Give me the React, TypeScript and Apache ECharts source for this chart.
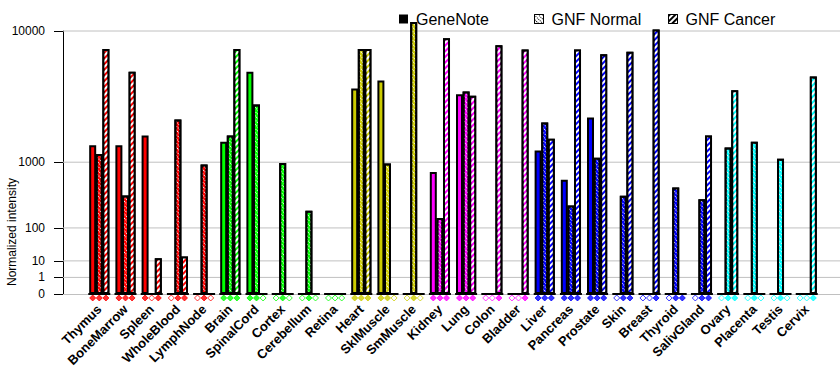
import React, { useEffect, useRef } from 'react';
import * as echarts from 'echarts';

const categories = [
  'Thymus', 'BoneMarrow', 'Spleen', 'WholeBlood', 'LymphNode',
  'Brain', 'SpinalCord', 'Cortex', 'Cerebellum', 'Retina',
  'Heart', 'SklMuscle', 'SmMuscle',
  'Kidney', 'Lung', 'Colon', 'Bladder',
  'Liver', 'Pancreas', 'Prostate', 'Skin', 'Breast', 'Thyroid', 'SalivGland',
  'Ovary', 'Placenta', 'Testis', 'Cervix',
];

const tissueColors = [
  '#ff0000', '#ff0000', '#ff0000', '#ff0000', '#ff0000',
  '#00ff00', '#00ff00', '#00ff00', '#00ff00', '#00ff00',
  '#cccc00', '#cccc00', '#cccc00',
  '#ff00ff', '#ff00ff', '#ff00ff', '#ff00ff',
  '#0000ff', '#0000ff', '#0000ff', '#0000ff', '#0000ff', '#0000ff', '#0000ff',
  '#00ffff', '#00ffff', '#00ffff', '#00ffff',
];

const geneNote: (number | null)[] = [
  1500, 1500, 1850, null, null,
  1620, 5700, null, null, null,
  4400, 5000, null,
  775, 4000, null, null,
  1330, 620, 2650, null, null, null, null,
  null, null, null, null,
];

const gnfNormal: (number | null)[] = [
  1220, 380, null, 2550, 940,
  1850, 3350, 980, 217, null,
  7900, 965, 11200,
  160, 4180, null, null,
  2400, 264, 1120, 377, null, 490, 333,
  1420, 1620, 1090, null,
];

const gnfCancer: (number | null)[] = [
  7900, 5700, 13, 15, null,
  7900, null, null, null, null,
  7900, null, null,
  9100, 3900, 8300, 7850,
  1730, 7850, 7350, 7600, 10200, 0, 1850,
  4270, null, null, 5300,
];

const seriesNames = ['GeneNote', 'GNF Normal', 'GNF Cancer'];
const yTickValues = [0, 1, 10, 100, 1000, 10000];
const gridValues = [1, 10, 100, 1000, 10000];

const P = 0.3;
const tr = (v: number) => Math.pow(v, P);
const FONT = "'Liberation Sans', Arial, sans-serif";
const OFF = 0.252;
const X_MIN = -1.385;
const X_MAX = 28.27;
const DIAMOND_Y = -0.24;
const LABEL_MARGIN = 13;

const normalDecal = {
  symbol: 'rect',
  symbolSize: 1,
  color: '#ffffff',
  backgroundColor: null,
  dashArrayX: [1, 1],
  dashArrayY: [1, 2],
  rotation: Math.PI / 4,
};
const cancerDecal = {
  symbol: 'rect',
  symbolSize: 1,
  color: '#ffffff',
  backgroundColor: null,
  dashArrayX: [1, 0],
  dashArrayY: [2, 2],
  rotation: -Math.PI / 4,
};

export default function App() {
  const ref = useRef<HTMLDivElement>(null);
  useEffect(() => {
    const chart = echarts.init(ref.current!, null, { renderer: 'svg' });
    const all = [geneNote, gnfNormal, gnfCancer];
    const decals: any[] = ['none', normalDecal, cancerDecal];

    const barSeries = all.map((arr, s) => ({
      type: 'bar',
      name: seriesNames[s],
      barWidth: 7,
      barGap: '-100%',
      clip: false,
      z: 3,
      itemStyle: { color: '#000', borderColor: '#000', borderWidth: 2, decal: decals[s] },
      data: arr
        .map((v, i) =>
          v === null
            ? null
            : { value: [i + (s - 1) * OFF, tr(v)], itemStyle: { color: tissueColors[i] } },
        )
        .filter((d) => d !== null),
    }));

    const diamonds: any[] = [];
    all.forEach((arr, s) => {
      arr.forEach((v, i) => {
        const c = tissueColors[i];
        diamonds.push({
          value: [i + (s - 1) * OFF, DIAMOND_Y],
          itemStyle: { color: v === null ? '#ffffff' : c, borderColor: c, borderWidth: 1 },
        });
      });
    });

    const legendStyle = (name: string, left: number, itemStyle: any) => ({
      data: [{ name, icon: 'rect', itemStyle }],
      left,
      top: 11,
      padding: 0,
      itemWidth: 9,
      itemHeight: 9,
      selectedMode: false,
      textStyle: { fontSize: 16, fontFamily: FONT, color: '#000', padding: [0, 0, 0, 3] },
    });

    chart.setOption({
      animation: false,
      backgroundColor: '#ffffff',
      grid: { left: 63, right: 0, top: 31, bottom: 91, containLabel: false },
      legend: [
        legendStyle('GeneNote', 399, { color: '#000', borderColor: '#000', borderWidth: 0 }),
        legendStyle('GNF Normal', 534, {
          color: '#ffffff', borderColor: '#000', borderWidth: 1,
          decal: { ...normalDecal, color: '#000' },
        }),
        legendStyle('GNF Cancer', 668, {
          color: '#ffffff', borderColor: '#000', borderWidth: 1,
          decal: { ...cancerDecal, color: '#000' },
        }),
      ],
      xAxis: {
        type: 'value',
        min: X_MIN,
        max: X_MAX,
        axisLine: { show: true, onZero: false, lineStyle: { color: '#c0c0c0', width: 1 } },
        axisTick: { show: false },
        splitLine: { show: false },
        axisLabel: { show: false },
      },
      yAxis: {
        type: 'value',
        min: 0,
        max: tr(10000),
        axisLine: { show: true, onZero: false, lineStyle: { color: '#000', width: 1 } },
        axisTick: {
          show: true,
          length: 9,
          customValues: yTickValues.map(tr),
          lineStyle: { color: '#000' },
        },
        axisLabel: {
          customValues: yTickValues.map(tr),
          formatter: (v: number) => String(Math.round(Math.pow(v, 1 / P))),
          fontSize: 12,
          color: '#000',
          margin: 18,
          fontFamily: FONT,
        },
        splitLine: { show: false },
      },
      graphic: [
        {
          type: 'text',
          x: 12,
          y: 232,
          rotation: Math.PI / 2,
          style: {
            text: 'Normalized intensity',
            fontSize: 12,
            fontFamily: FONT,
            fill: '#000',
            align: 'center',
            verticalAlign: 'middle',
          },
        },
      ],
      series: [
        {
          type: 'custom',
          name: 'grid',
          silent: true,
          z: 1,
          clip: false,
          data: gridValues.map((v) => [0, tr(v)]),
          encode: { x: 0, y: 1 },
          renderItem: (params: any, api: any) => {
            const y = api.coord([0, api.value(1)])[1];
            const cs = params.coordSys;
            return {
              type: 'line',
              shape: { x1: cs.x, y1: y, x2: cs.x + cs.width, y2: y },
              style: { stroke: '#c0c0c0', lineWidth: 1 },
            };
          },
        },
        ...barSeries,
        {
          type: 'custom',
          name: 'base',
          silent: true,
          z: 5,
          clip: false,
          data: categories.map((_, i) => [i, 0]),
          encode: { x: 0, y: 1 },
          renderItem: (params: any, api: any) => {
            const a = api.coord([api.value(0) - 0.42, 0]);
            const b = api.coord([api.value(0) + 0.42, 0]);
            return {
              type: 'line',
              shape: { x1: a[0], y1: a[1], x2: b[0], y2: b[1] },
              style: { stroke: '#000', lineWidth: 2 },
            };
          },
        },
        {
          type: 'scatter',
          name: 'present',
          symbol: 'diamond',
          symbolSize: 6,
          clip: false,
          silent: true,
          z: 5,
          data: diamonds,
        },
        {
          type: 'custom',
          name: 'tissue labels',
          silent: true,
          z: 5,
          clip: false,
          data: categories.map((c, i) => [i, 0, c]),
          encode: { x: 0, y: 1 },
          renderItem: (params: any, api: any) => {
            const p = api.coord([api.value(0), 0]);
            return {
              type: 'text',
              x: p[0],
              y: p[1] + LABEL_MARGIN,
              rotation: Math.PI / 4,
              style: {
                text: categories[params.dataIndex],
                fontSize: 13,
                fontWeight: 'bold',
                fontFamily: FONT,
                fill: '#000',
                align: 'right',
                verticalAlign: 'middle',
              },
            };
          },
        },
      ],
    });
    return () => chart.dispose();
  }, []);
  return (
    <div
      ref={ref}
      style={{ position: 'fixed', left: 0, top: 0, width: 840, height: 385 }}
    />
  );
}
